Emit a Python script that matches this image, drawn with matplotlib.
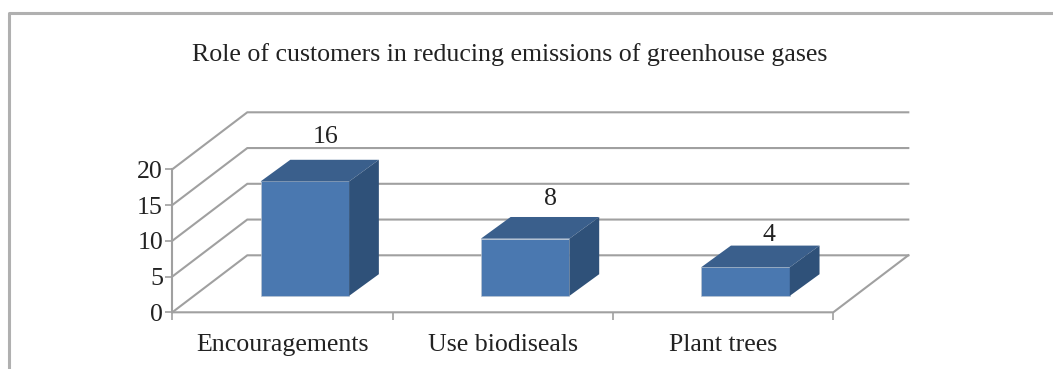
import numpy as np
import matplotlib.pyplot as plt
from matplotlib.patches import Polygon

W, H = 1053, 369

categories = ['Encouragements', 'Use biodiseals', 'Plant trees']
values = [16, 8, 4]
y_ticks = [0, 5, 10, 15, 20]
title = 'Role of customers in reducing emissions of greenhouse gases'

grid_color = '#a0a0a0'
front_color = '#4a78b0'
top_color = '#3a5f8c'
side_color = '#2f5179'
text_color = '#222222'

# where each value label sits relative to the back top edge of its bar (points)
label_dx = [4.5, 7.5, 6]
label_dy = [8.5, 5, 0]

plt.rcParams['font.family'] = ['Liberation Serif', 'DejaVu Serif']

fig = plt.figure(figsize=(W / 100, H / 100), dpi=100)
fig.patch.set_facecolor('white')

# outer frame, only top and left are visible
fig.add_artist(plt.Line2D([9 / W, 9 / W, 1], [0, 1 - 13 / H, 1 - 13 / H],
                          color='#b0b0b0', lw=2.2))

# axes covers the front floor edge: x in category units, y in value units
left, right, bottom, top = 172.3, 833.3, 312.3, 169.3
ax = fig.add_axes([left / W, 1 - bottom / H, (right - left) / W, (bottom - top) / H])
ax.set_xlim(0, len(categories))
ax.set_ylim(0, 20)
ax.patch.set_alpha(0)
for s in ax.spines.values():
    s.set_visible(False)

# depth of the 3d box, in data units
depth_x = 75 / ((right - left) / len(categories))
depth_y = 57 / ((bottom - top) / 20)

# walls: slanted lines from the front axis, then back to the right
for v in y_ticks:
    ax.plot([0, depth_x, 3 + depth_x], [v, v + depth_y, v + depth_y],
            color=grid_color, lw=1.5, clip_on=False, zorder=1, solid_joinstyle='miter')
ax.plot([0, 3, 3 + depth_x], [0, 0, depth_y], color=grid_color, lw=1.5,
        clip_on=False, zorder=1, solid_joinstyle='miter')
ax.plot([0, 0], [0, 20], color=grid_color, lw=1.5, clip_on=False, zorder=1)

# bars sit in the middle of the floor
bar_w = 0.402
bar_dx = 0.135
bar_dy = 3.03
lift = 2.3
shift = 0.1015
x = np.arange(len(categories)) + 0.5 + shift
ax.bar(x, values, width=bar_w, bottom=lift, color=front_color, edgecolor='#b9c4d2',
       linewidth=0.5, clip_on=False, zorder=3)
for xi, v, ldx, ldy in zip(x, values, label_dx, label_dy):
    x0, x1 = xi - bar_w / 2, xi + bar_w / 2
    y0, y1 = lift, lift + v
    ax.add_patch(Polygon([(x0, y1), (x1, y1), (x1 + bar_dx, y1 + bar_dy), (x0 + bar_dx, y1 + bar_dy)],
                         closed=True, fc=top_color, ec='none', clip_on=False, zorder=3))
    ax.add_patch(Polygon([(x1, y0), (x1 + bar_dx, y0 + bar_dy), (x1 + bar_dx, y1 + bar_dy), (x1, y1)],
                         closed=True, fc=side_color, ec='none', clip_on=False, zorder=3))
    ax.annotate(str(v), (xi + bar_dx / 2, y1 + bar_dy), xytext=(ldx, ldy), textcoords='offset points',
                ha='center', va='bottom', fontsize=18.6, color=text_color, zorder=4,
                annotation_clip=False)

ax.set_xticks(range(len(categories) + 1))
ax.set_xticklabels([])
ax.set_xticks(np.arange(len(categories)) + 0.5, categories, minor=True)
ax.set_yticks(y_ticks)
ax.tick_params(axis='x', which='major', length=5.5, width=1.2, color=grid_color)
ax.tick_params(axis='x', which='minor', length=0, pad=15.3, labelsize=18.6, labelcolor=text_color)
ax.tick_params(axis='y', length=4.7, width=1.2, color=grid_color, pad=2, labelsize=18.6,
               labelcolor=text_color)

fig.text(510 / W, 1 - 55 / H, title, ha='center', va='center', fontsize=18.6, color=text_color)

fig.savefig('out.png', dpi=100)
